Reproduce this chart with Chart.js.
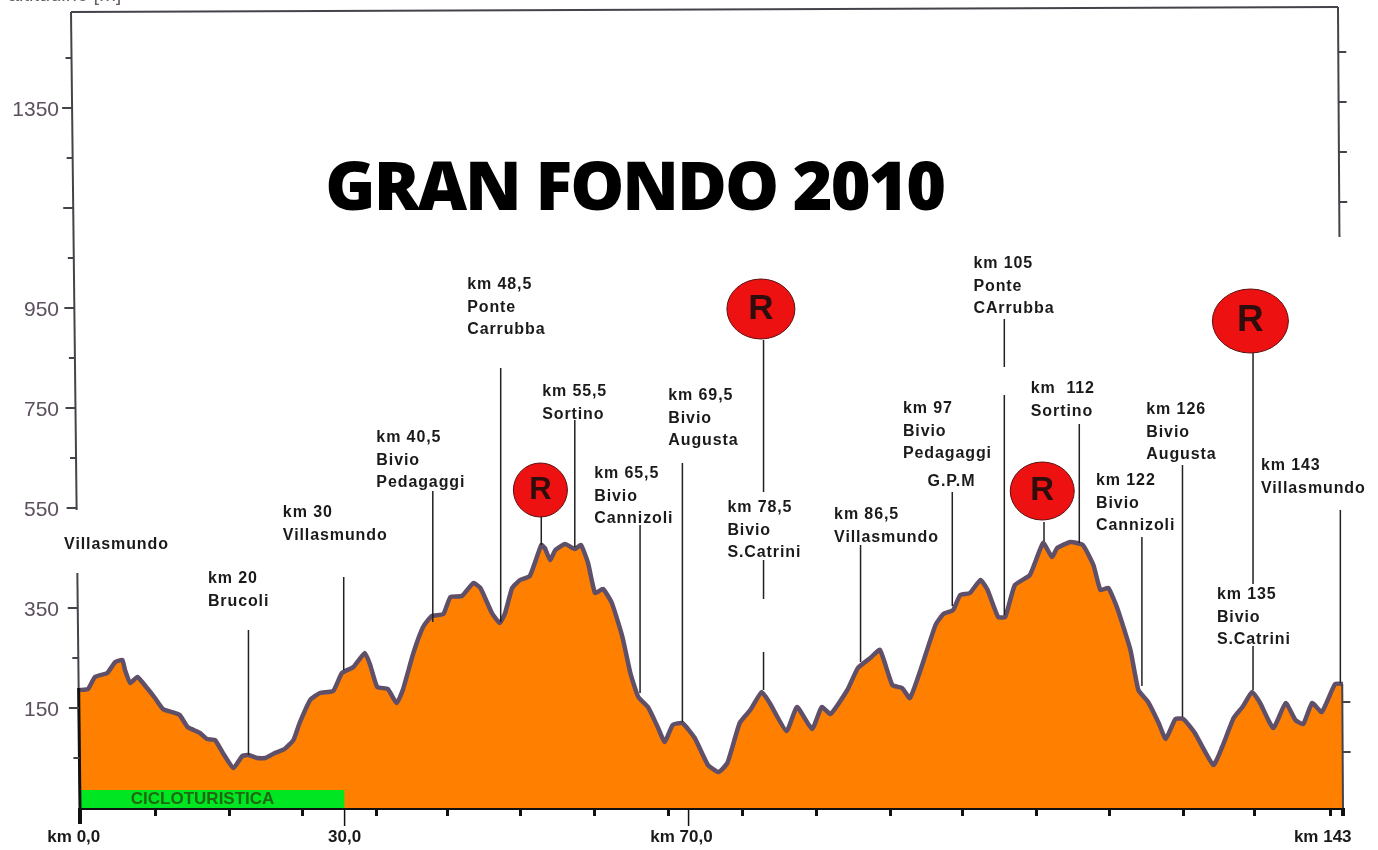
<!DOCTYPE html>
<html>
<head>
<meta charset="utf-8">
<title>Gran Fondo 2010</title>
<script src="https://cdn.jsdelivr.net/npm/chart.js@4/dist/chart.umd.js"></script>
<style>
    html, body { margin: 0; padding: 0; background: #fff; }
    canvas { display: block; }
</style>
</head>
<body>
<canvas id="chart_div" width="1378" height="850"></canvas>
<script>
// profile, km and metres
var profile_km = [0,0.9,1.7,3.1,4.0,4.8,5.1,5.7,6.5,7.6,8.5,9.4,10.4,11.3,12.2,13.6,14.4,15.3,16.2,17.4,18.4,19.1,20.1,21.0,22.1,23.2,24.2,24.9,26.1,27.2,28.7,29.7,31.0,32.3,32.9,33.7,34.9,35.9,36.6,37.8,38.9,39.9,41.2,42.0,43.3,44.6,45.4,46.7,47.6,48.2,49.0,49.9,51.0,52.3,52.7,53.3,53.9,55.0,56.1,56.8,57.6,58.4,59.3,60.3,61.5,62.4,63.3,64.4,65.5,66.3,67.2,68.3,69.7,71.2,72.4,73.4,74.8,76.0,77.3,78.2,80.1,81.3,83.0,84.1,85.1,87.0,88.2,89.6,90.7,92.1,93.2,94.1,95.3,97.0,97.9,99.0,99.8,100.9,102.1,102.9,104.1,104.9,106.0,107.7,109.2,110.2,110.8,112.3,113.7,114.9,115.7,116.6,117.6,119.1,120.0,121.1,122.3,123.1,124.2,125.1,126.4,128.5,129.5,130.8,131.8,132.9,133.8,135.3,136.7,137.8,138.7,139.7,140.8,142.3,143.2];
var profile_m = [186,188,212,220,242,246,226,200,212,190,170,148,142,136,112,100,88,86,60,30,54,56,50,50,60,68,86,120,166,180,184,220,232,260,236,192,188,160,186,260,312,334,338,372,374,400,390,340,320,340,390,406,414,476,470,446,466,478,468,476,440,380,388,360,292,220,172,152,112,82,116,120,90,36,22,40,120,146,182,160,104,152,108,152,138,186,230,250,266,196,190,170,226,316,338,346,376,380,406,386,332,332,396,416,480,452,470,482,476,436,386,390,350,266,186,162,120,88,128,128,100,36,72,130,152,182,160,110,160,126,118,160,142,198,198];

// vertical leader lines under the place names
var leader_km = [19.1,29.9,40.0,47.7,52.3,56.1,63.5,68.3,77.5,77.5,77.5,88.5,98.9,104.8,104.8,109.3,113.3,120.4,125.0,133.0,133.0,142.9];
var leader_top = [306,412,584,830,536,726,516,640,886,446,262,476,582,928,776,522,718,492,636,862,274,546];
var leader_bottom = [56,226,322,322,476,472,180,122,582,368,186,242,354,832,336,484,480,194,132,398,186,200];

// place names, anchored at their first line
var place_text = [
    ['Villasmundo'],
    ['km 20', 'Brucoli'],
    ['km 30', 'Villasmundo'],
    ['km 40,5', 'Bivio', 'Pedagaggi'],
    ['km 48,5', 'Ponte', 'Carrubba'],
    ['km 55,5', 'Sortino'],
    ['km 65,5', 'Bivio', 'Cannizoli'],
    ['km 69,5', 'Bivio', 'Augusta'],
    ['km 78,5', 'Bivio', 'S.Catrini'],
    ['km 86,5', 'Villasmundo'],
    ['km 97', 'Bivio', 'Pedagaggi'],
    ['G.P.M'],
    ['km 105', 'Ponte', 'CArrubba'],
    ['km  112', 'Sortino'],
    ['km 122', 'Bivio', 'Cannizoli'],
    ['km 126', 'Bivio', 'Augusta'],
    ['km 135', 'Bivio', 'S.Catrini'],
    ['km 143', 'Villasmundo']
];
var place_km = [-1.8,14.5,23.0,33.6,43.9,52.4,58.3,66.7,73.4,85.5,93.3,96.1,101.3,107.8,115.2,120.9,128.9,133.9];
var place_m = [468,400,532,682,988,774,610,766,542,528,740,594,1030,780,596,738,368,626];

// red R badges
var badge_km = [52.2,77.2,109.1,132.7];
var badge_m = [586,948,584,924];

// axis marks and tick labels
var y_label_values = [150,350,550,750,950,1350];
var y_tick_values = [50,150,250,350,550,650,750,850,950,1050,1150,1250,1350,1450];
var y_major_ticks = [150,350,550,750,950,1150,1350];
var right_tick_values = [62,162,1162,1262,1362,1462];
var x_tick_values = [8.6,16.9,25.2,33.6,41.7,50,58.3,66.7,75.1,83.5,91.9,100.1,108.4,116.7,125.1,133.2,141.8];
var x_long_ticks = [0,30,69,143.2];
var x_label_values = [-0.7,30,68.2,140.9];
var x_label_text = ['km 0,0','30,0','km 70,0','km 143'];

// cicloturistica band
var band_km = [0,30];
var band_m = [-14,-14];

var label_font = 'bold 16px "Liberation Sans"';

function buildLeaders() {
    var points = [];
    leader_km.forEach((km, i) => {
        points.push({x: km, y: leader_top[i]});
        points.push({x: km, y: leader_bottom[i]});
        points.push({x: km, y: null});
    });
    return points;
}

var marks_plugin = {
    id: 'marks',
    afterDatasetsDraw: (chart) => {
        var ctx = chart.ctx,
            x_scale = chart.scales.x,
            y_scale = chart.scales.y;

        // the scan leans a little, so the frame is not quite square
        function leftX(m) {
            return 80 - (808 - y_scale.getPixelForValue(m)) * 9 / 796;
        }
        function rightX(m) {
            return 1343 - (808 - y_scale.getPixelForValue(m)) * 5 / 800;
        }
        function segment(x1, y1, x2, y2, width, color) {
            ctx.beginPath();
            ctx.lineWidth = width;
            ctx.strokeStyle = color;
            ctx.moveTo(x1, y1);
            ctx.lineTo(x2, y2);
            ctx.stroke();
        }

        ctx.save();

        var frame_color = '#46424a';
        [[-50, 420], [546, 1542]].forEach((part) => {
            segment(leftX(part[0]), y_scale.getPixelForValue(part[0]), leftX(part[1]), y_scale.getPixelForValue(part[1]), 2, frame_color);
        });
        [[-50, 198], [1092, 1552]].forEach((part) => {
            segment(rightX(part[0]), y_scale.getPixelForValue(part[0]), rightX(part[1]), y_scale.getPixelForValue(part[1]), 2, frame_color);
        });
        segment(leftX(1542), y_scale.getPixelForValue(1542), rightX(1552), y_scale.getPixelForValue(1552), 2, frame_color);
        segment(leftX(-50), y_scale.getPixelForValue(-50), leftX(190), y_scale.getPixelForValue(190), 3, '#111');

        y_tick_values.forEach((m) => {
            var len = y_major_ticks.indexOf(m) >= 0 ? 10 : 6,
                py = y_scale.getPixelForValue(m);
            segment(leftX(m) - len, py, leftX(m), py, 2, frame_color);
        });
        right_tick_values.forEach((m) => {
            var py = y_scale.getPixelForValue(m);
            segment(rightX(m), py, rightX(m) + 8, py, 2, frame_color);
        });

        // long ticks under the km labels
        var bottom = y_scale.getPixelForValue(-50);
        x_long_ticks.forEach((km, i) => {
            var px = x_scale.getPixelForValue(km),
                heavy = (i == 0 || i == 3);
            segment(px, bottom, px, bottom + (heavy ? (i == 0 ? 16 : 8) : 18), heavy ? 4 : 1.5, '#111');
        });

        // cropped axis caption at the very top
        ctx.fillStyle = '#6a5f6a';
        ctx.font = '20px "Liberation Sans"';
        ctx.textAlign = 'left';
        ctx.textBaseline = 'alphabetic';
        ctx.fillText('altitudine [m]', 8, 1);

        // title
        ctx.fillStyle = '#000';
        ctx.font = '800 68px "Open Sans"';
        ctx.letterSpacing = '-2px';
        ctx.textAlign = 'center';
        ctx.fillText('GRAN FONDO 2010', x_scale.getPixelForValue(62.9), y_scale.getPixelForValue(1146));

        // place names
        ctx.fillStyle = '#1a1a1a';
        ctx.font = label_font;
        ctx.letterSpacing = '0.9px';
        ctx.textAlign = 'left';
        place_text.forEach((lines, i) => {
            var px = x_scale.getPixelForValue(place_km[i]),
                py = y_scale.getPixelForValue(place_m[i]);
            lines.forEach((line, j) => {
                ctx.fillText(line, px, py + j * 22.5);
            });
        });
        ctx.letterSpacing = '0px';

        // badges
        var badge_rx = [27, 34, 32, 38],
            badge_ry = [27, 30, 29, 32];
        badge_km.forEach((km, i) => {
            var px = x_scale.getPixelForValue(km),
                py = y_scale.getPixelForValue(badge_m[i]);
            ctx.beginPath();
            ctx.ellipse(px, py, badge_rx[i], badge_ry[i], 0, 0, Math.PI * 2);
            ctx.fillStyle = '#ee1111';
            ctx.fill();
            ctx.lineWidth = 1;
            ctx.strokeStyle = '#5a1010';
            ctx.stroke();
            ctx.fillStyle = '#2e0d0d';
            ctx.font = 'bold ' + Math.round(badge_ry[i] * 1.15) + 'px "Liberation Sans"';
            ctx.textAlign = 'center';
            ctx.textBaseline = 'middle';
            ctx.fillText('R', px, py);
        });

        // band caption
        ctx.fillStyle = '#1f6a10';
        ctx.font = 'bold 17px "Liberation Sans"';
        ctx.textAlign = 'center';
        ctx.textBaseline = 'middle';
        ctx.fillText('CICLOTURISTICA', x_scale.getPixelForValue(13.9), y_scale.getPixelForValue(-32));

        ctx.restore();
    }
};

new Chart(document.getElementById('chart_div'), {
    type: 'scatter',
    plugins: [marks_plugin],
    data: {
        datasets: [
            {
                label: 'leaders',
                data: buildLeaders(),
                showLine: true,
                spanGaps: false,
                borderColor: '#222',
                borderWidth: 1.5,
                pointRadius: 0,
                order: 1
            },
            {
                label: 'cicloturistica',
                data: band_km.map((km, i) => ({x: km, y: band_m[i]})),
                showLine: true,
                borderWidth: 0,
                borderColor: '#00e622',
                backgroundColor: '#00e622',
                fill: 'start',
                pointRadius: 0,
                order: 2
            },
            {
                label: 'altitudine',
                data: profile_km.map((km, i) => ({x: km, y: profile_m[i]})),
                showLine: true,
                borderColor: '#5f4f68',
                borderWidth: 4.5,
                borderJoinStyle: 'round',
                backgroundColor: '#ff8000',
                fill: 'start',
                tension: 0.15,
                pointRadius: 0,
                order: 3
            }
        ]
    },
    options: {
        responsive: false,
        animation: false,
        layout: {padding: {top: 8, right: 35, left: 0, bottom: 0}},
        plugins: {
            legend: {display: false},
            tooltip: {enabled: false}
        },
        scales: {
            x: {
                type: 'linear',
                min: 0,
                max: 143.2,
                border: {color: '#111', width: 3},
                grid: {
                    drawOnChartArea: false,
                    tickLength: 8,
                    tickWidth: 3,
                    tickColor: (c) => (x_label_values.indexOf(c.tick.value) >= 0 ? 'rgba(0,0,0,0)' : '#111')
                },
                afterBuildTicks: (axis) => {
                    axis.ticks = x_tick_values.concat(x_label_values).map((v) => ({value: v}));
                },
                afterFit: (axis) => {
                    axis.height = 42;
                    axis.paddingLeft = 0;
                    axis.paddingRight = 0;
                },
                ticks: {
                    autoSkip: false,
                    maxRotation: 0,
                    padding: 11,
                    color: '#1a1a1a',
                    font: {family: 'Liberation Sans', size: 17, weight: 'bold'},
                    callback: (value) => {
                        var i = x_label_values.indexOf(value);
                        return i >= 0 ? x_label_text[i] : '';
                    }
                }
            },
            y: {
                type: 'linear',
                min: -50,
                max: 1550,
                border: {display: false},
                grid: {display: false, drawTicks: false},
                afterBuildTicks: (axis) => {
                    axis.ticks = y_label_values.map((v) => ({value: v}));
                },
                afterFit: (axis) => {
                    axis.width = 80;
                    axis.paddingTop = 0;
                    axis.paddingBottom = 0;
                },
                ticks: {
                    padding: 21,
                    labelOffset: 2,
                    color: '#5c4f5e',
                    font: {family: 'Liberation Sans', size: 21},
                    callback: (value) => String(value)
                }
            }
        }
    }
});
</script>
</body>
</html>
